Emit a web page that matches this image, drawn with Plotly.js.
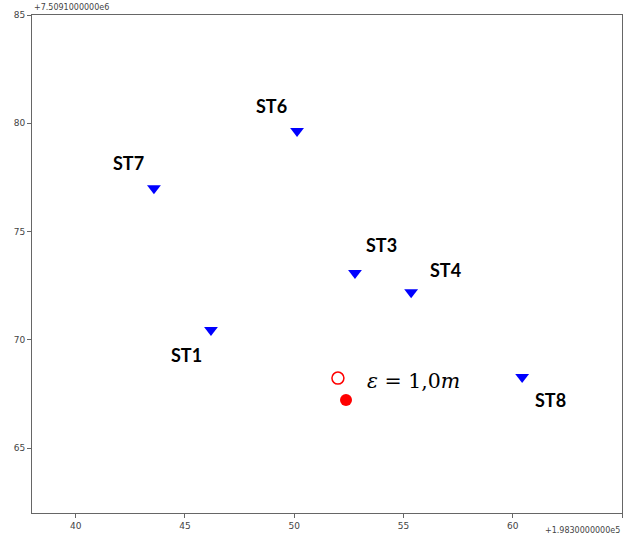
<!DOCTYPE html>
<html><head><meta charset="utf-8">
<script src="https://cdn.plot.ly/plotly-3.0.1.min.js"></script>
<style>html,body{margin:0;padding:0;background:#fff}#chart{width:626px;height:535px}</style>
</head><body><div id="chart"></div>
<script>
const stationNames = ["ST6","ST7","ST3","ST4","ST1","ST8"];
const stationX = [50.13, 43.58, 52.78, 55.35, 46.19, 60.43];
const stationY = [79.64, 77.0, 73.08, 72.2, 70.45, 68.28];
const estX = [52.0];
const estY = [68.23];
const trueX = [52.37];
const trueY = [67.22];
const xOffsetText = "+1.9830000000e5";
const yOffsetText = "+7.5091000000e6";
const xTicks = [40,45,50,55,60,65];
const yTicks = [65,70,75,80,85];

const labelShift = {ST6:[-26,25], ST7:[-25,25], ST3:[27,28], ST4:[34,22], ST1:[-24,-25], ST8:[28,-23]};

const traces = [
  {x: stationX, y: stationY, mode:"markers", type:"scatter",
   marker:{symbol:"triangle-down", size:12, color:"#0000ff"}},
  {x: estX, y: estY, mode:"markers", type:"scatter",
   marker:{symbol:"circle-open", size:12, color:"#ff0000", line:{width:1.5}}},
  {x: trueX, y: trueY, mode:"markers", type:"scatter",
   marker:{symbol:"circle", size:12, color:"#ff0000"}}
];

const annotations = stationNames.map((n,i)=>({
  x: stationX[i], y: stationY[i], xref:"x", yref:"y", text:"<b>"+n+"</b>",
  showarrow:false, xshift: labelShift[n][0], yshift: labelShift[n][1],
  font:{family:"Lato, 'Open Sans', sans-serif", size:18, color:"#000"}
}));
annotations.push({x: estX[0], y: estY[0], xref:"x", yref:"y",
  text:"<i>ε</i> = 1,0<i>m</i>", showarrow:false, xshift:76, yshift:-3,
  font:{family:"'DejaVu Serif', serif", size:20.5, color:"#000"}});
annotations.push({x:0, y:1, xref:"paper", yref:"paper", xanchor:"left", yanchor:"bottom",
  text: yOffsetText, showarrow:false, yshift:1,
  font:{family:"'DejaVu Sans', sans-serif", size:8, color:"#444"}});
annotations.push({x:1, y:0, xref:"paper", yref:"paper", xanchor:"right", yanchor:"top",
  text: xOffsetText, showarrow:false, yshift:-11,
  font:{family:"'DejaVu Sans', sans-serif", size:8, color:"#444"}});

const axisCommon = {showgrid:false, zeroline:false, showline:true, mirror:true,
  linecolor:"#666", linewidth:1, ticks:"outside", ticklen:4, tickcolor:"#666",
  tickfont:{family:"'DejaVu Sans', sans-serif", size:9, color:"#444"}};

const layout = {
  width:626, height:535, showlegend:false,
  margin:{l:32, r:4, t:15, b:22},
  paper_bgcolor:"#fff", plot_bgcolor:"#fff",
  xaxis: Object.assign({}, axisCommon, {range:[38,65], tickvals:xTicks, ticktext:xTicks.map(String)}),
  yaxis: Object.assign({}, axisCommon, {range:[62,85], tickvals:yTicks, ticktext:yTicks.map(String)}),
  annotations: annotations
};
Plotly.newPlot("chart", traces, layout, {displayModeBar:false, staticPlot:true});
</script></body></html>
